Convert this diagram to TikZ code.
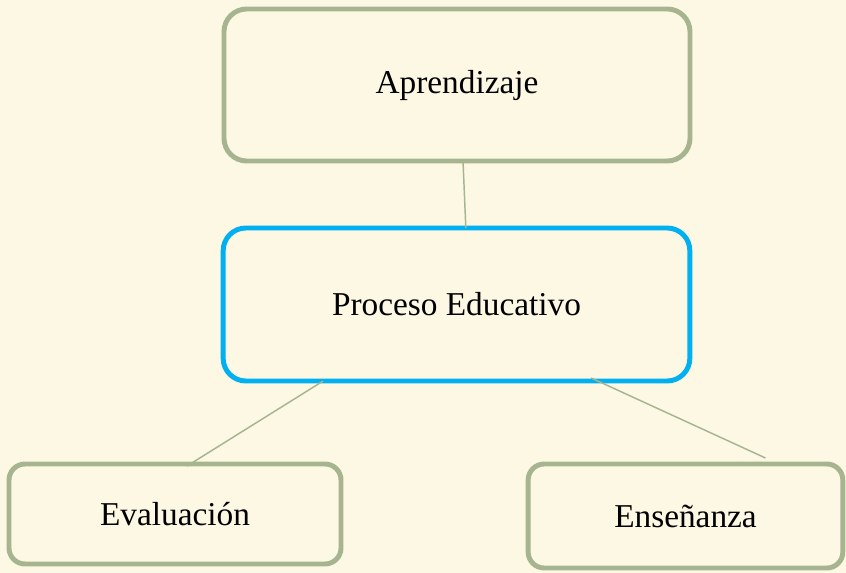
\documentclass[tikz,border=0pt]{standalone}
\usepackage{fontspec}
\setmainfont{Liberation Serif}
\usepackage{xcolor}
\usetikzlibrary{positioning,calc}
\definecolor{paper}{RGB}{253,248,228}
\definecolor{sage}{RGB}{166,181,144}
\definecolor{sky}{RGB}{0,176,240}

\begin{document}
\begin{tikzpicture}[x=0.75pt,y=-0.75pt,
	box/.style={draw=#1, line width=3.7pt, rounded corners=17pt, inner sep=0pt, outer sep=0pt, font=\fontsize{25}{29}\selectfont},
	small/.style={box=sage, rounded corners=12pt},
	link/.style={draw=sage, line width=1.1pt}]
	\fill[paper] (0,0) rectangle (846,573);
	\useasboundingbox (0,0) rectangle (846,573);
	\node[box=sage, minimum width=349.5pt, minimum height=114pt] (apr) at (457,85) {Aprendizaje};
	\node[box=sky, minimum width=350pt, minimum height=114.75pt] (proc) at (456.5,304.5) {Proceso Educativo};
	\node[small, minimum width=249pt, minimum height=75pt] (eval) at (175,514) {Evaluación};
	\node[small, minimum width=236pt, minimum height=78pt] (ens) at (685.5,516) {Enseñanza};
	\draw[link] ([xshift=4.5pt]apr.south) -- ([xshift=7pt]proc.north);
	\draw[link] ([xshift=-100pt]proc.south) -- ([xshift=9pt,yshift=-1.5pt]eval.north);
	\draw[link] ([xshift=101pt,yshift=2.25pt]proc.south) -- ([xshift=60pt,yshift=4.5pt]ens.north);
\end{tikzpicture}
\end{document}
